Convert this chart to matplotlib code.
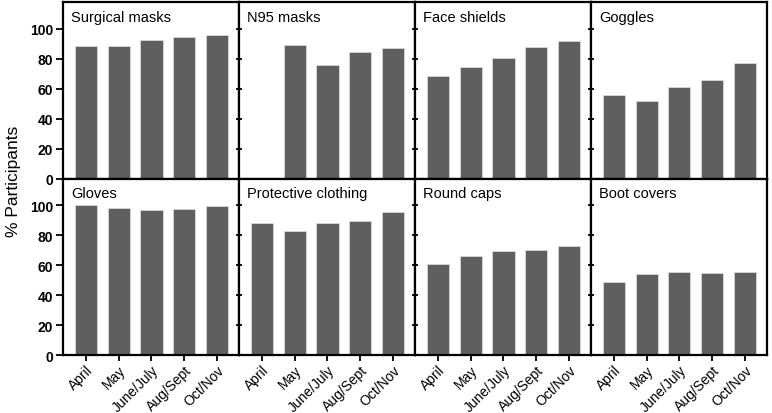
import numpy as np
import matplotlib
matplotlib.use("Agg")
import matplotlib.pyplot as plt

plt.rcParams['font.family'] = ['Liberation Sans', 'DejaVu Sans']

periods = ["April", "May", "June/July", "Aug/Sept", "Oct/Nov"]
titles = ["Surgical masks", "N95 masks", "Face shields", "Goggles",
          "Gloves", "Protective clothing", "Round caps", "Boot covers"]
surgical_masks = [88.8, 88.4, 92.4, 94.9, 96.0]
n95_masks = [np.nan, 89.0, 75.6, 84.3, 87.0]
face_shields = [68.7, 74.3, 80.5, 87.7, 92.2]
goggles = [55.7, 51.9, 61.3, 65.8, 77.2]
gloves = [100.0, 98.2, 96.8, 97.3, 99.3]
protective_clothing = [88.2, 82.8, 88.2, 89.5, 95.3]
round_caps = [60.7, 66.3, 69.6, 70.3, 72.8]
boot_covers = [49.1, 54.0, 55.3, 54.7, 55.3]
series = [surgical_masks, n95_masks, face_shields, goggles,
          gloves, protective_clothing, round_caps, boot_covers]
yticks = [0, 20, 40, 60, 80, 100]

fig, axes = plt.subplots(2, 4, figsize=(7.72, 4.14), dpi=100, sharey=True)
fig.subplots_adjust(left=0.0816, right=0.9935, top=0.9928, bottom=0.140,
                    wspace=0, hspace=0)
x = np.arange(len(periods))
for i, ax in enumerate(axes.flat):
    r, c = divmod(i, 4)
    ax.bar(x, series[i], width=0.67, color='#5f5f5f', edgecolor='#d8d8d8',
           linewidth=0.6, zorder=2)
    ax.set_xlim(-0.69, 4.66)
    ax.set_ylim(0, 118)
    ax.set_yticks(yticks)
    for s in ax.spines.values():
        s.set_linewidth(1.6)
        s.set_color('black')
    ax.text(0.045, 0.955, titles[i], transform=ax.transAxes, ha='left', va='top',
            fontsize=10.5)
    ax.set_xticks(x)
    if r == 1:
        ax.set_xticklabels(periods, rotation=45, ha='right', rotation_mode='anchor',
                           fontsize=10)
    else:
        ax.set_xticklabels([])
    ax.tick_params(axis='x', direction='out', length=4, width=1.3, pad=1.5)
    if c == 0:
        ax.tick_params(axis='y', direction='out', length=5, width=1.3, labelsize=10, pad=2)
        for lab in ax.get_yticklabels():
            lab.set_fontweight('bold')
    else:
        ax.tick_params(axis='y', direction='inout', length=5, width=1.3, labelleft=False)

fig.text(0.017, 0.562, "% Participants", rotation=90, ha='center', va='center',
         fontsize=12.5)
fig.savefig("out.png", dpi=100)
